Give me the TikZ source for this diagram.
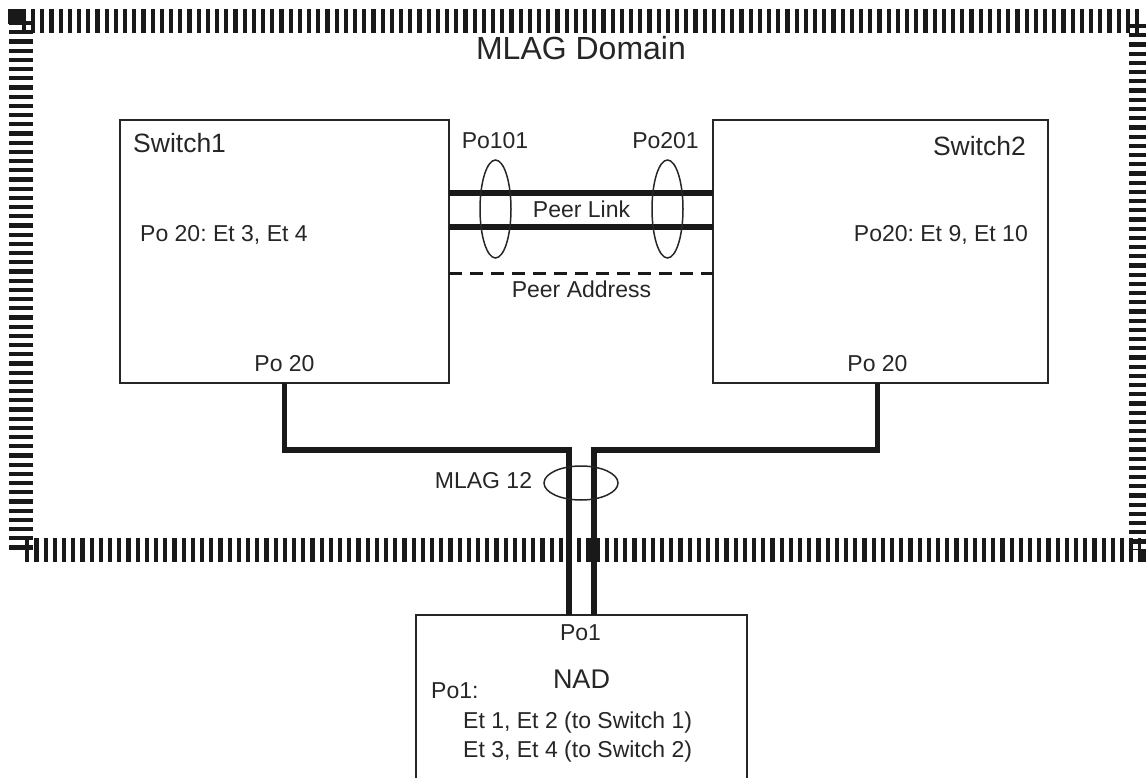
\documentclass[tikz,border=0pt]{standalone}
\usepackage{fontspec}
\setmainfont{Liberation Sans}
\usetikzlibrary{calc}
\usetikzlibrary{shapes.geometric}
\frenchspacing

\tikzset{
	box/.style={draw=black!85, line width=1.5pt, inner sep=0pt, outer sep=0pt, anchor=north west},
	lbl/.style={inner sep=0pt, text=black!85, font=\fontsize{23}{27}\selectfont},
	wire/.style={line width=5.5pt, black!90},
	lag/.style={draw=black!85, line width=1.5pt, ellipse, inner sep=0pt},
	domainborder/.style={line width=24pt, black!90, dash pattern=on 4.2pt off 5pt}
}

\begin{document}
\begin{tikzpicture}[x=1pt,y=-1pt]
		\useasboundingbox (0,0) rectangle (1146,778);
		
		% MLAG domain border
		\draw[domainborder] (20.5,21) rectangle (1141,550);
		\fill[black!90] (8,9) rectangle (24,24);
		\node[lbl, font=\fontsize{32}{36}\selectfont, anchor=base](dom) at (581,60) {MLAG Domain};
		
		% switches
		\node[box, minimum width=329pt, minimum height=263pt](sw1) at (120,120) {};
		\node[box, minimum width=335pt, minimum height=263pt](sw2) at (713,120) {};
		\node[box, minimum width=331pt, minimum height=200pt](nad) at (416,615) {};
		
		\node[lbl, font=\fontsize{26.5}{30}\selectfont, anchor=base west](sw1name) at (133,153) {Switch1};
		\node[lbl, anchor=base west](sw1po) at (140,242) {Po 20: Et 3, Et 4};
		\node[lbl, anchor=base](sw1port) at (284.5,371) {Po 20};
		
		\node[lbl, font=\fontsize{26.5}{30}\selectfont, anchor=base east](sw2name) at (1026,156) {Switch2};
		\node[lbl, anchor=base east](sw2po) at (1028,241) {Po20: Et 9, Et 10};
		\node[lbl, anchor=base](sw2port) at (877.5,371) {Po 20};
		
		\node[lbl, anchor=base](nadport) at (580.5,640) {Po1};
		\node[lbl, font=\fontsize{27}{31}\selectfont, anchor=base](nadname) at (581.5,688) {NAD};
		\node[lbl, anchor=base west](nadpo) at (431,698) {Po1:};
		\node[lbl, anchor=base west](nadet1) at (463,728) {Et 1, Et 2 (to Switch 1)};
		\node[lbl, anchor=base west](nadet2) at (463,757) {Et 3, Et 4 (to Switch 2)};
		
		% peer link and peer address
		\draw[wire] ($(sw1.north east)+(0,73)$) -- ($(sw2.north west)+(0,73)$);
		\draw[wire] ($(sw1.north east)+(0,107)$) -- ($(sw2.north west)+(0,107)$);
		\draw[line width=3pt, black!90, dash pattern=on 13pt off 8pt] ($(sw1.north east)+(0,153)$) -- ($(sw2.north west)+(0,153)$);
		\node[lbl, anchor=base](peerlink) at (581.5,218) {Peer Link};
		\node[lbl, anchor=base](peeraddr) at (581.5,298) {Peer Address};
		
		\node[lag, minimum width=31pt, minimum height=98pt](po101) at (495.5,209) {};
		\node[lag, minimum width=31pt, minimum height=98pt](po201) at (667.5,209) {};
		\node[lbl, anchor=base](po101lbl) at (495,149) {Po101};
		\node[lbl, anchor=base](po201lbl) at (665.5,149) {Po201};
		
		% MLAG links
		\coordinate(j1) at (569,450);
		\coordinate(j2) at (594,450);
		\draw[wire] (sw1port.south |- sw1.south) |- (j1) -- (j1 |- nad.north);
		\draw[wire] (sw2port.south |- sw2.south) |- (j2) -- (j2 |- nad.north);
		\node[lag, minimum width=74pt, minimum height=34pt](mlag) at (581,483) {};
		\node[lbl, anchor=base](mlaglbl) at (483.5,488) {MLAG 12};
	\end{tikzpicture}
\end{document}
